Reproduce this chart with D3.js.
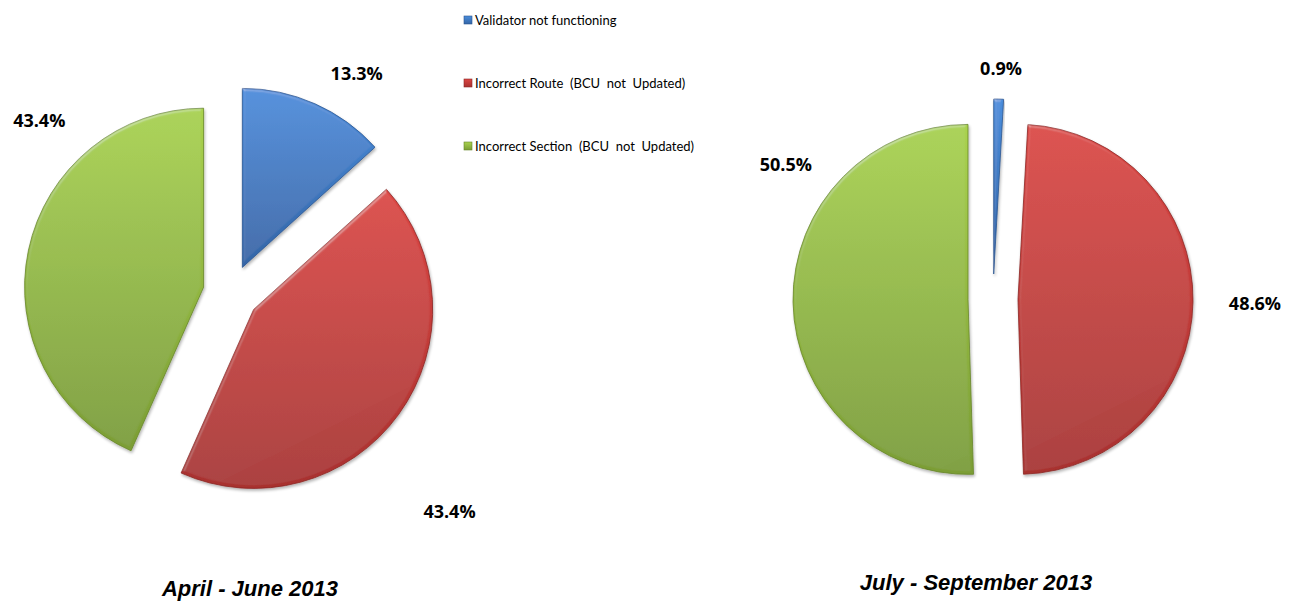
<!DOCTYPE html>
<html>
<head>
<meta charset="utf-8">
<script src="https://cdn.jsdelivr.net/npm/d3@7"></script>
<style>
  html, body { margin: 0; padding: 0; background: #fff; }
  svg { display: block; }
</style>
</head>
<body>
<svg id="chart" width="1300" height="603"></svg>
<script>
// Fault categories and their share per quarter (%)
const categories = [
  "Validator not functioning",
  "Incorrect Route  (BCU  not  Updated)",
  "Incorrect Section  (BCU  not  Updated)"
];
const periods = ["April - June 2013", "July - September 2013"];
const valuesQ1 = [13.3, 43.4, 43.4];
const valuesQ2 = [0.9, 48.6, 50.5];

// Colours: top / bottom of each slice's gradient
const colorTop = ["#4a8ddc", "#dc4643", "#a9d24e"];
const colorBottom = ["#3465a6", "#a8312f", "#7b9d35"];
const colorEdge = ["#2b5590", "#8a2725", "#67852a"];

// Layout
const pies = [
  { values: valuesQ1, title: periods[0], cx: 231, cy: 293, r: 179, explode: 28,
    titleX: 250, titleY: 596,
    labelPolar: [[29.8, 253], [135, 309], [312, 258]] },
  { values: valuesQ2, title: periods[1], cx: 993, cy: 299, r: 175, explode: 25,
    titleX: 976, titleY: 590,
    labelPolar: [[2, 231], [90.9, 262], [303, 247]] }
];

const svg = d3.select("#chart");
const defs = svg.append("defs");

categories.forEach((c, i) => {
  const g = defs.append("linearGradient")
    .attr("id", "grad" + i)
    .attr("x1", 0).attr("y1", 0).attr("x2", 0).attr("y2", 1);
  g.append("stop").attr("offset", "0%").attr("stop-color", colorTop[i]);
  g.append("stop").attr("offset", "100%").attr("stop-color", colorBottom[i]);
});

// Soft bevel and faint shadow around each slice
const f = defs.append("filter").attr("id", "bevel")
  .attr("x", "-10%").attr("y", "-10%").attr("width", "120%").attr("height", "120%");
f.append("feGaussianBlur").attr("in", "SourceAlpha").attr("stdDeviation", 1.5).attr("result", "blur");
f.append("feSpecularLighting").attr("in", "blur").attr("surfaceScale", 2)
  .attr("specularConstant", 0.25).attr("specularExponent", 18)
  .attr("lighting-color", "#ffffff").attr("result", "spec")
  .append("fePointLight").attr("x", -5000).attr("y", -10000).attr("z", 8000);
f.append("feComposite").attr("in", "spec").attr("in2", "SourceAlpha")
  .attr("operator", "in").attr("result", "specIn");
f.append("feOffset").attr("in", "SourceAlpha").attr("dx", 1).attr("dy", 2).attr("result", "off");
f.append("feGaussianBlur").attr("in", "off").attr("stdDeviation", 1.5).attr("result", "offBlur");
f.append("feComponentTransfer").attr("in", "offBlur").attr("result", "shadow")
  .append("feFuncA").attr("type", "linear").attr("slope", 0.3);
const merge = f.append("feMerge");
merge.append("feMergeNode").attr("in", "shadow");
merge.append("feMergeNode").attr("in", "SourceGraphic");
merge.append("feMergeNode").attr("in", "specIn");

const pie = d3.pie().sort(null).value(d => d).startAngle(0).endAngle(2 * Math.PI);

pies.forEach(p => {
  const arc = d3.arc().innerRadius(0).outerRadius(p.r);
  const g = svg.append("g").attr("transform", `translate(${p.cx},${p.cy})`);
  const arcs = pie(p.values);

  g.selectAll("path.slice")
    .data(arcs)
    .join("path")
    .attr("class", "slice")
    .attr("transform", d => {
      const a = (d.startAngle + d.endAngle) / 2;
      return `translate(${p.explode * Math.sin(a)},${-p.explode * Math.cos(a)})`;
    })
    .attr("d", arc)
    .attr("fill", (d, i) => `url(#grad${i})`)
    .attr("stroke", (d, i) => colorEdge[i])
    .attr("stroke-width", 0.8)
    .attr("stroke-linejoin", "round")
    .attr("filter", "url(#bevel)");

  // Percentage labels
  g.selectAll("text.pct")
    .data(arcs)
    .join("text")
    .attr("class", "pct")
    .attr("x", (d, i) => p.labelPolar[i][1] * Math.sin(p.labelPolar[i][0] * Math.PI / 180))
    .attr("y", (d, i) => -p.labelPolar[i][1] * Math.cos(p.labelPolar[i][0] * Math.PI / 180))
    .attr("text-anchor", "middle")
    .attr("dominant-baseline", "central")
    .style("font-family", "'Open Sans', 'Noto Sans', sans-serif")
    .style("font-weight", "700")
    .style("font-size", "18px")
    .attr("fill", "#000")
    .text(d => d.data.toFixed(1) + "%");

  // Period title
  svg.append("text")
    .attr("x", p.titleX)
    .attr("y", p.titleY)
    .attr("text-anchor", "middle")
    .style("font-family", "Arial, 'Liberation Sans', 'DejaVu Sans', sans-serif")
    .style("font-weight", "700")
    .style("font-style", "italic")
    .style("font-size", "22px")
    .attr("fill", "#000")
    .text(p.title);
});

// Legend
const legend = svg.append("g").attr("transform", "translate(464,20)");
const item = legend.selectAll("g.item")
  .data(categories)
  .join("g")
  .attr("class", "item")
  .attr("transform", (d, i) => `translate(0,${i * 63})`);
item.append("rect")
  .attr("x", 0).attr("y", -4).attr("width", 8).attr("height", 8)
  .attr("fill", (d, i) => `url(#grad${i})`)
  .attr("stroke", (d, i) => colorEdge[i])
  .attr("stroke-width", 0.6);
item.append("text")
  .attr("x", 11).attr("y", 0)
  .attr("dominant-baseline", "central")
  .style("font-family", "Lato, 'Open Sans', sans-serif")
  .style("font-size", "13px")
  .style("white-space", "pre")
  .attr("fill", "#000")
  .text(d => d);
</script>
</body>
</html>
